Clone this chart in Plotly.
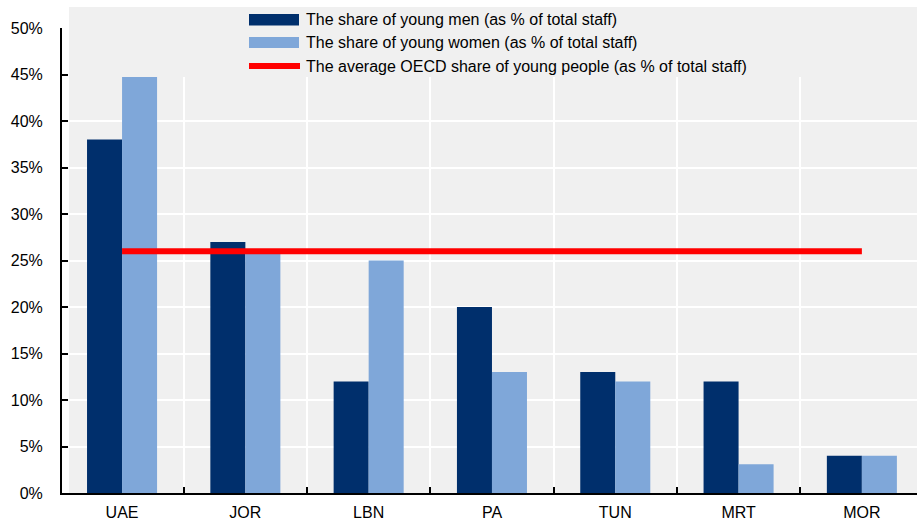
import plotly.graph_objects as go

categories = ["UAE", "JOR", "LBN", "PA", "TUN", "MRT", "MOR"]
young_men = [38, 27, 12, 20, 13, 12, 4]
young_women = [45, 25.8, 25, 13, 12, 3.1, 4]
oecd_avg = [26, 26, 26, 26, 26, 26, 26]
legend_labels = [
    "The share of young men (as % of total staff)",
    "The share of young women (as % of total staff)",
    "The average OECD share of young people (as % of total staff)",
]
y_ticks = [0, 5, 10, 15, 20, 25, 30, 35, 40, 45, 50]

DARK = "#002F6C"
LIGHT = "#7FA7D9"
RED = "#FF0000"
BG = "#F0F0F0"
REG = "Liberation Sans, Arial, sans-serif"

W, H = 917, 520
L, T = 62, 28
PW = 917 - 62          # plot width (page px 62 -> 917)
PH = 493 - 28          # plot height (page px 28 -> 493)
R = W - L - PW
B = H - T - PH


def px(x):
    return (x - L) / PW


def py(y):
    return (T + PH - y) / PH


fig = go.Figure()
fig.add_trace(go.Bar(x=categories, y=young_men, name=legend_labels[0],
                     marker=dict(color=DARK, line=dict(width=0))))
fig.add_trace(go.Bar(x=categories, y=young_women, name=legend_labels[1],
                     marker=dict(color=LIGHT, line=dict(width=0))))
fig.add_trace(go.Scatter(x=categories, y=oecd_avg, name=legend_labels[2],
                         mode="lines", line=dict(color=RED, width=6)))

shapes = [
    # grey plot background
    dict(type="rect", xref="paper", yref="paper", x0=px(69), x1=1.02, y0=0, y1=py(7),
         fillcolor=BG, line=dict(width=0), layer="below"),
    # legend background box
    dict(type="rect", xref="paper", yref="paper", x0=px(69), x1=1.02, y0=py(77), y1=py(7),
         fillcolor=BG, line=dict(width=0), layer="above"),
    # legend swatches
    dict(type="rect", xref="paper", yref="paper", x0=px(249), x1=px(299), y0=py(25.5), y1=py(14),
         fillcolor=DARK, line=dict(width=0), layer="above"),
    dict(type="rect", xref="paper", yref="paper", x0=px(249), x1=px(299), y0=py(48), y1=py(37),
         fillcolor=LIGHT, line=dict(width=0), layer="above"),
    dict(type="line", xref="paper", yref="paper", x0=px(249), x1=px(300), y0=py(66), y1=py(66),
         line=dict(color=RED, width=6), layer="above"),
]

annotations = []
for lbl, yy in zip(legend_labels, [19.5, 43, 66.5]):
    annotations.append(dict(text=lbl, xref="paper", yref="paper", x=px(304), y=py(yy),
                            xanchor="left", yanchor="middle", showarrow=False,
                            font=dict(family=REG, size=16, color="#000000")))

fig.update_layout(
    width=W, height=H,
    margin=dict(l=L, r=R, t=T, b=B, pad=0),
    paper_bgcolor="white", plot_bgcolor="white",
    barmode="group", bargap=0.432, bargroupgap=0,
    showlegend=False,
    shapes=shapes, annotations=annotations,
    xaxis=dict(type="category", range=[-0.487, 6.447],
               showline=True, linecolor="black", linewidth=2,
               ticks="inside", tickson="boundaries", ticklen=6, tickcolor="black", tickwidth=2,
               showgrid=True, gridcolor="white", gridwidth=2,
               ticklabelstandoff=4,
               tickfont=dict(family=REG, size=16, color="#000000")),
    yaxis=dict(range=[0, 50], tickvals=y_ticks, ticktext=[f"{v}%" for v in y_ticks],
               showline=True, linecolor="black", linewidth=2,
               ticks="inside", ticklen=6, tickcolor="black", tickwidth=2,
               showgrid=True, gridcolor="white", gridwidth=2, zeroline=False,
               ticklabelstandoff=14,
               tickfont=dict(family=REG, size=16, color="#000000")),
)

fig.write_html("out.html",
               config={"displayModeBar": False},
               post_script="document.body.style.margin='0';document.body.style.overflow='hidden';")
